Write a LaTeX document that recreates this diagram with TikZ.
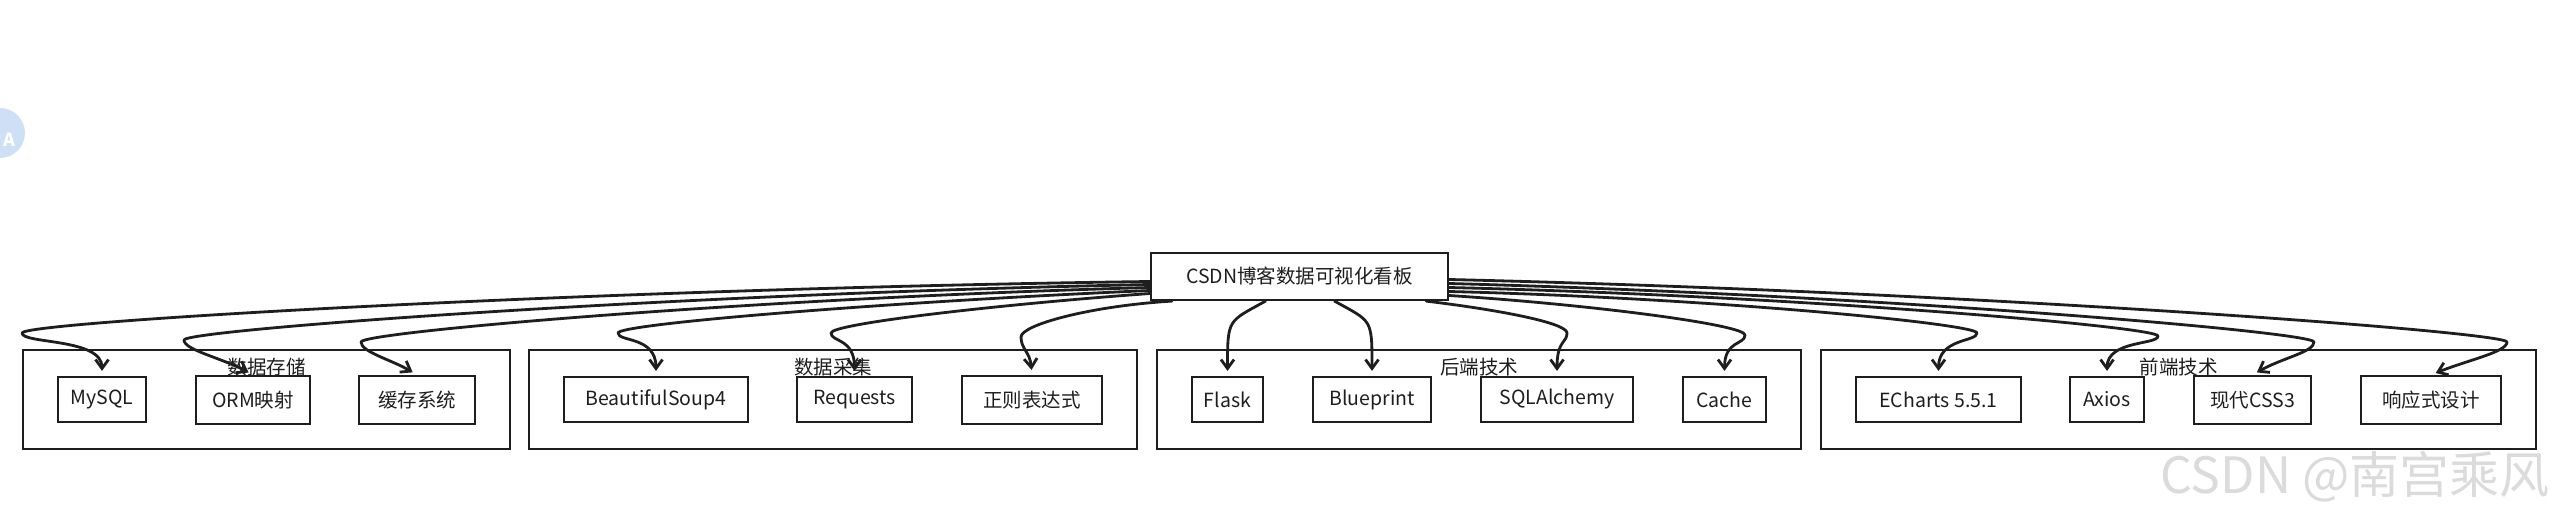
\documentclass[tikz,border=0pt]{standalone}
\usepackage{fontspec}
\setmainfont{Noto Sans CJK SC}
\usetikzlibrary{arrows.meta,calc}
\definecolor{ink}{HTML}{1E1E1E}
\definecolor{badge}{RGB}{206,224,246}
\begin{document}
\begin{tikzpicture}[x=1pt,y=-1pt,
  leaf/.style={draw=ink, line width=2.2pt, fill=white, inner sep=0pt, font=\fontsize{19.5}{22}\selectfont, text=ink},
  grp/.style={draw=ink, line width=2.2pt, inner sep=0pt},
  grplabel/.style={font=\fontsize{19.5}{22}\selectfont, text=ink, inner sep=0pt},
  conn/.style={draw=ink, line width=2.8pt, line cap=round, line join=round, -{Straight Barb[length=9pt,width=13pt]}, shorten >=5pt}
]
\fill[white] (0,0) rectangle (2555,519);
\useasboundingbox (0,0) rectangle (2555,519);

% side badge and watermark
\fill[badge] (0,133) circle[radius=25pt];
\node[text=white, font=\bfseries\fontsize{18}{18}\selectfont, inner sep=0pt] (badgeA) at (9,140) {A};
\node[text=gray!28, font=\fontsize{50}{56}\selectfont, inner sep=0pt] (wm) at (2355,477) {CSDN @南宫乘风};

% groups
\node[grp, minimum width=487pt, minimum height=99pt] (gA) at (266.5,399.5) {};
\node[grp, minimum width=608pt, minimum height=99pt] (gB) at (833,399.5) {};
\node[grp, minimum width=644pt, minimum height=99pt] (gC) at (1479,399.5) {};
\node[grp, minimum width=715pt, minimum height=99pt] (gD) at (2178.5,399.5) {};
\node[grplabel] (lA) at (266.5,367) {数据存储};
\node[grplabel] (lB) at (833,367) {数据采集};
\node[grplabel] (lC) at (1479,367) {后端技术};
\node[grplabel] (lD) at (2178.5,367) {前端技术};

% root
\node[leaf, minimum width=297pt, minimum height=47pt] (root) at (1299.5,276.5) {CSDN博客数据可视化看板};

% leaves
\node[leaf, minimum width=88pt, minimum height=45pt] (mysql) at (102,399.5) {MySQL};
\node[leaf, minimum width=114pt, minimum height=48pt] (orm) at (253,400) {ORM映射};
\node[leaf, minimum width=116pt, minimum height=48pt] (cachesys) at (417,400) {缓存系统};
\node[leaf, minimum width=184pt, minimum height=45pt] (bs4) at (656,399.5) {BeautifulSoup4};
\node[leaf, minimum width=115pt, minimum height=45pt] (req) at (854.5,399.5) {Requests};
\node[leaf, minimum width=140pt, minimum height=48pt] (regex) at (1032,400) {正则表达式};
\node[leaf, minimum width=71pt, minimum height=45pt] (flask) at (1227.5,399.5) {Flask};
\node[leaf, minimum width=118pt, minimum height=45pt] (blue) at (1372,399.5) {Blueprint};
\node[leaf, minimum width=152pt, minimum height=45pt] (sqla) at (1557,399.5) {SQLAlchemy};
\node[leaf, minimum width=83pt, minimum height=45pt] (cache) at (1724.5,399.5) {Cache};
\node[leaf, minimum width=165pt, minimum height=45pt] (echarts) at (1938.5,399.5) {ECharts 5.5.1};
\node[leaf, minimum width=74pt, minimum height=45pt] (axios) at (2107,399.5) {Axios};
\node[leaf, minimum width=117pt, minimum height=48pt] (css) at (2252.5,400) {现代CSS3};
\node[leaf, minimum width=140pt, minimum height=48pt] (resp) at (2431,400) {响应式设计};

% connectors: data storage
\draw[conn] ($(root.west)+(0,5)$) .. controls (588,289) and (22,322) .. (22,333) .. controls (22,344) and (102,338) .. (mysql.north);
\draw[conn] ($(root.west)+(0,8)$) .. controls (668,294) and (184,330) .. (184,340) .. controls (184,350) and (222,358) .. (orm.north);
\draw[conn] ($(root.west)+(0,11)$) .. controls (757,298) and (361,332) .. (361,342) .. controls (361,352) and (392,360) .. (cachesys.north);
% data collection
\draw[conn] ($(root.west)+(0,14)$) .. controls (885,302) and (618,324) .. (618,333) .. controls (618,342) and (656,336) .. (bs4.north);
\draw[conn] ($(root.west)+(0,17)$) .. controls (992,305) and (831,324) .. (831,333) .. controls (831,342) and (854.5,338) .. (req.north);
\draw[conn] ($(root.south west)+(22,0)$) .. controls (1090,306) and (1021,325) .. (1021,337) .. controls (1021,349) and (1030,352) .. (regex.north);
% backend
\draw[conn] ($(root.south)+(-34,0)$) .. controls (1228,322) and (1227.5,318) .. (flask.north);
\draw[conn] ($(root.south)+(35,0)$) .. controls (1372,322) and (1372,318) .. (blue.north);
\draw[conn] ($(root.south east)+(-23,0)$) .. controls (1500,310) and (1567,323) .. (1567,333) .. controls (1567,343) and (1557,340) .. (sqla.north);
\draw[conn] ($(root.east)+(0,19)$) .. controls (1596,305) and (1745,325) .. (1745,335) .. controls (1745,345) and (1724.5,340) .. (cache.north);
% frontend
\draw[conn] ($(root.east)+(0,15)$) .. controls (1712,298) and (1977,324) .. (1977,333) .. controls (1977,342) and (1938.5,338) .. (echarts.north);
\draw[conn] ($(root.east)+(0,11)$) .. controls (1802,296) and (2158,327) .. (2158,336) .. controls (2158,345) and (2107,340) .. (axios.north);
\draw[conn] ($(root.east)+(0,7)$) .. controls (1880,295) and (2314,332) .. (2314,342) .. controls (2314,352) and (2282,358) .. (css.north);
\draw[conn] ($(root.east)+(0,3)$) .. controls (1976,292) and (2507,332) .. (2507,342) .. controls (2507,352) and (2468,360) .. (resp.north);
\end{tikzpicture}
\end{document}
